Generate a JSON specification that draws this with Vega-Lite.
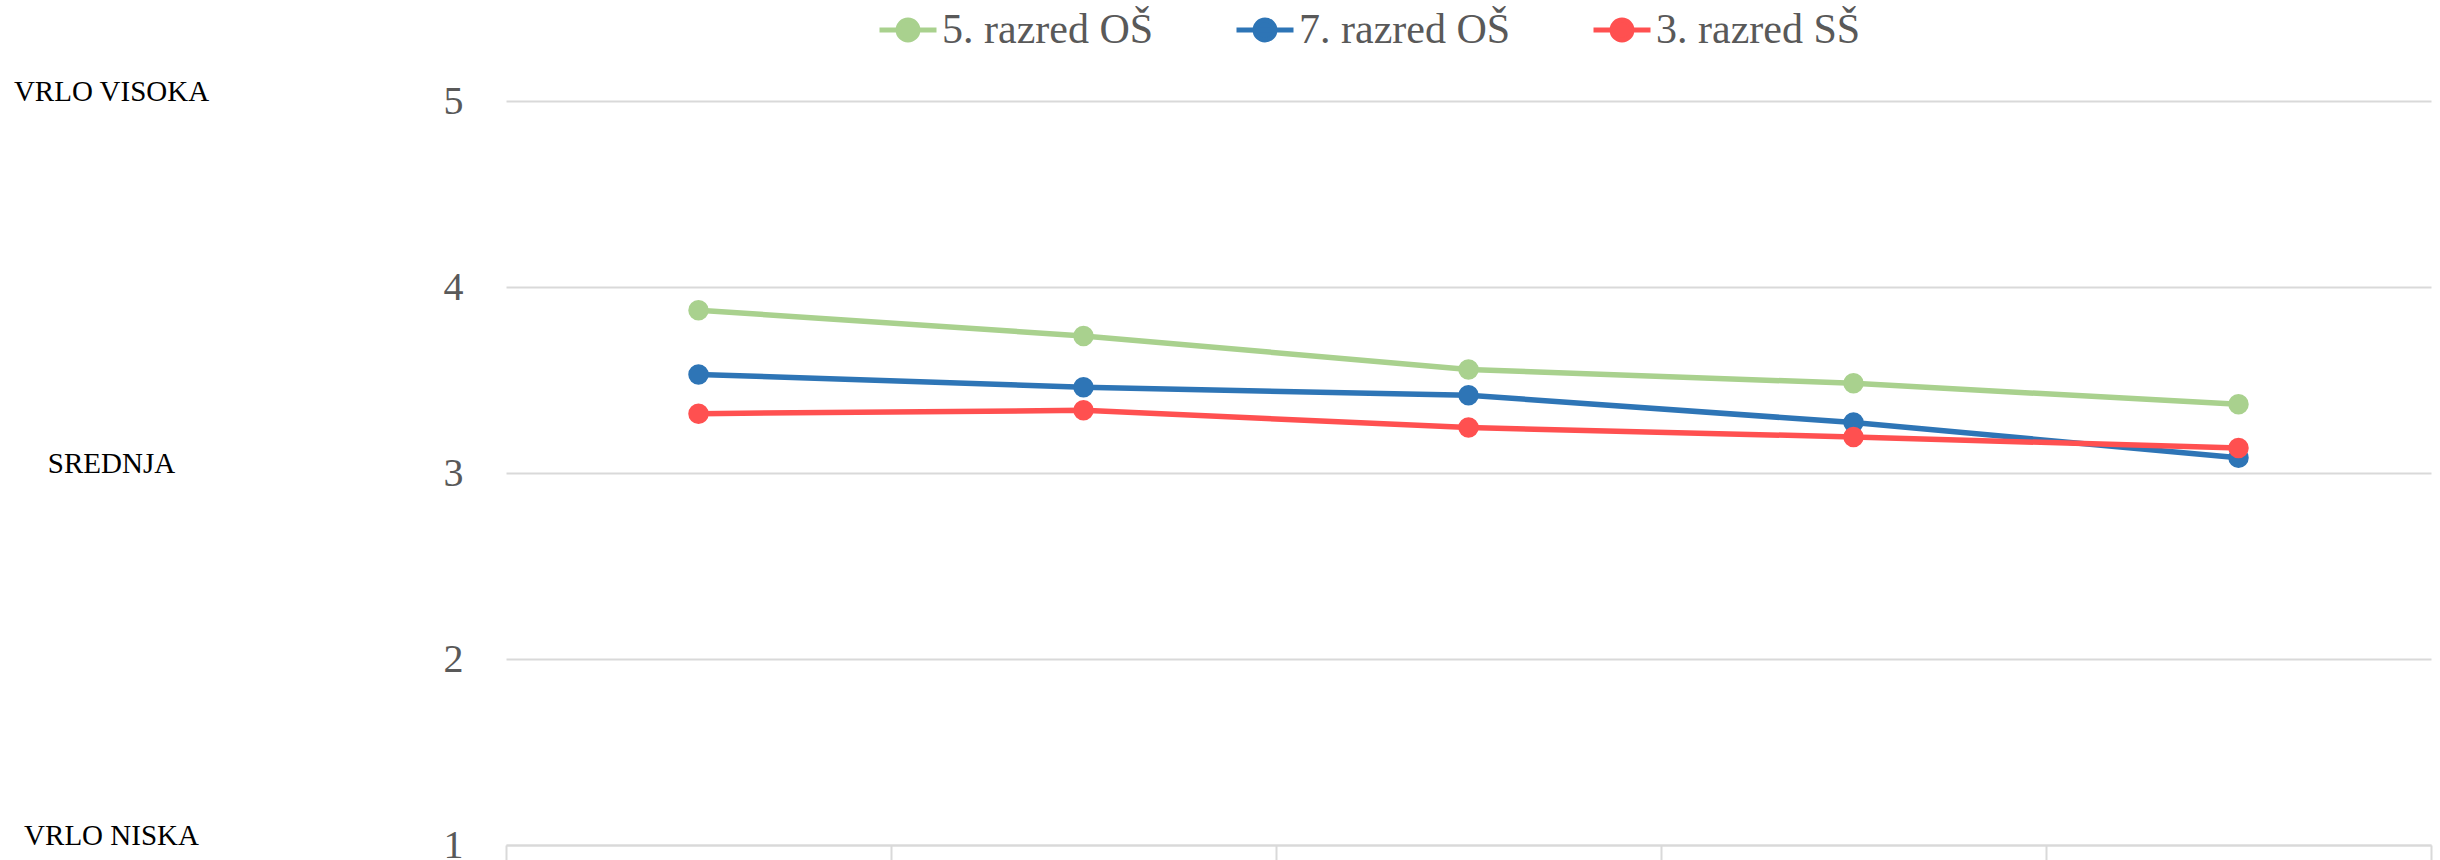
{
  "$schema": "https://vega.github.io/schema/vega-lite/v6.json",
  "autosize": {"type": "none"},
  "width": 1925,
  "height": 744,
  "padding": {"left": 506, "top": 101, "right": 9, "bottom": 15},
  "background": "white",
  "data": {"values": [
    {"grade": "5. razred OŠ", "cat": "A", "value": 3.875},
    {"grade": "5. razred OŠ", "cat": "B", "value": 3.737},
    {"grade": "5. razred OŠ", "cat": "C", "value": 3.557},
    {"grade": "5. razred OŠ", "cat": "D", "value": 3.482},
    {"grade": "5. razred OŠ", "cat": "E", "value": 3.369},
    {"grade": "7. razred OŠ", "cat": "A", "value": 3.530},
    {"grade": "7. razred OŠ", "cat": "B", "value": 3.461},
    {"grade": "7. razred OŠ", "cat": "C", "value": 3.418},
    {"grade": "7. razred OŠ", "cat": "D", "value": 3.271},
    {"grade": "7. razred OŠ", "cat": "E", "value": 3.082},
    {"grade": "3. razred SŠ", "cat": "A", "value": 3.319},
    {"grade": "3. razred SŠ", "cat": "B", "value": 3.337},
    {"grade": "3. razred SŠ", "cat": "C", "value": 3.244},
    {"grade": "3. razred SŠ", "cat": "D", "value": 3.194},
    {"grade": "3. razred SŠ", "cat": "E", "value": 3.134}
  ]},
  "encoding": {
    "x": {
      "field": "cat", "type": "nominal", "sort": null,
      "scale": {"type": "band", "paddingInner": 0, "paddingOuter": 0},
      "axis": {"title": null, "labels": false, "domain": true, "domainColor": "#d9d9d9", "domainWidth": 2,
               "ticks": true, "tickBand": "extent", "tickColor": "#d9d9d9", "tickWidth": 2, "tickSize": 20, "grid": false}
    },
    "color": {
      "field": "grade", "type": "nominal",
      "scale": {"domain": ["5. razred OŠ", "7. razred OŠ", "3. razred SŠ"], "range": ["#A9D18E", "#2E75B6", "#FF5050"]},
      "legend": {
        "title": null, "orient": "none", "legendX": 371, "legendY": -102, "direction": "horizontal", "columns": 3,
        "padding": 0, "columnPadding": 72, "labelOffset": 3, "labelLimit": 0,
        "labelFont": "Liberation Serif", "labelFontSize": 42, "labelColor": "#595959",
        "symbolType": "M-1,0L1,0M0.35,0A0.35,0.35,0,1,1,-0.35,0A0.35,0.35,0,1,1,0.35,0Z",
        "symbolSize": 3249, "symbolStrokeWidth": 5,
        "encode": {"symbols": {"update": {
          "fill": {"scale": "color", "field": "value"},
          "stroke": {"scale": "color", "field": "value"},
          "opacity": {"value": 1}, "fillOpacity": {"value": 1}, "strokeOpacity": {"value": 1}
        }}}
      }
    }
  },
  "layer": [
    {
      "mark": {"type": "line", "strokeWidth": 5.5},
      "encoding": {
        "y": {
          "field": "value", "type": "quantitative",
          "scale": {"domain": [1, 5], "nice": false, "zero": false},
          "axis": {"title": null, "orient": "left", "values": [1, 2, 3, 4, 5], "domain": false, "ticks": false,
                   "grid": true, "gridColor": "#d9d9d9", "gridWidth": 2, "labelPadding": 43,
                   "labelFont": "Liberation Serif", "labelFontSize": 40, "labelColor": "#595959"}
        }
      }
    },
    {
      "mark": {"type": "point", "filled": true, "size": 420, "opacity": 1},
      "encoding": {
        "y": {
          "field": "value", "type": "quantitative",
          "scale": {"domain": [1, 5], "nice": false, "zero": false},
          "axis": {"title": null, "orient": "left", "values": [1, 3, 5], "domain": false, "ticks": false, "grid": false,
                   "offset": 395, "labelPadding": 0, "labelAlign": "center", "labelBaseline": "middle", "labelOffset": -10,
                   "labelOverlap": false, "labelLimit": 0,
                   "labelExpr": "datum.value == 5 ? 'VRLO VISOKA' : datum.value == 3 ? 'SREDNJA' : 'VRLO NISKA'",
                   "labelFont": "Liberation Serif", "labelFontSize": 29, "labelColor": "#000000"}
        }
      }
    }
  ],
  "resolve": {"axis": {"y": "independent"}},
  "config": {"view": {"stroke": null}}
}
